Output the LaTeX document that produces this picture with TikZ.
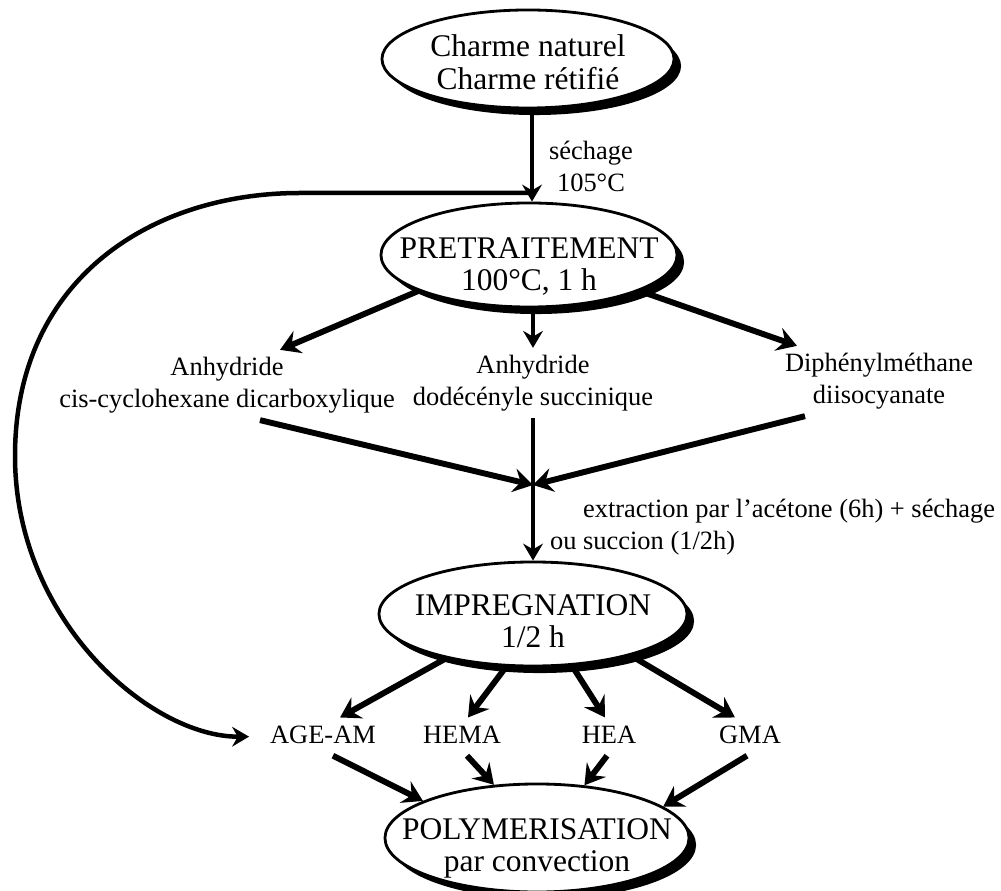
\documentclass[tikz,border=0pt]{standalone}
\usepackage{fontspec}
\setmainfont{Liberation Serif}
\usetikzlibrary{arrows.meta,shapes.geometric,shadows}
\newcommand{\twoline}[2]{\begin{tabular}{@{}c@{}}#1\\#2\end{tabular}}
\newcommand{\inbubble}[3]{\makebox[0pt]{\raisebox{#1}[0pt][0pt]{\twoline{#2}{#3}}}}

\begin{document}
\begin{tikzpicture}[x=0.025cm,y=-0.025cm,
  bubble/.style={ellipse,draw,line width=2pt,fill=white,inner sep=0pt,
    font=\fontsize{22.4}{23}\selectfont,
    drop shadow={shadow xshift=5pt,shadow yshift=-5pt,fill=black,opacity=1}},
  lbl/.style={inner sep=2pt,font=\fontsize{18.8}{22.8}\selectfont},
  arr/.style={line width=4.2pt,-{Stealth[length=14pt,width=17pt,inset=5pt]}},
  arrthin/.style={line width=2.8pt,-{Stealth[length=12pt,width=14pt,inset=4pt]}}]
  \useasboundingbox (0,0) rectangle (1001,891);

  \node[bubble,minimum width=7.3cm,minimum height=2.45cm] (top) at (528,59)
    {\inbubble{-0.37cm}{Charme naturel}{Charme rétifié}};
  \node[bubble,minimum width=7.4cm,minimum height=2.6cm] (pret) at (529,255)
    {\inbubble{-0.5cm}{PRETRAITEMENT}{100°C, 1 h}};
  \node[bubble,minimum width=7.7cm,minimum height=2.6cm] (impreg) at (533,614)
    {\inbubble{-0.45cm}{IMPREGNATION}{1/2 h}};
  \node[bubble,minimum width=7.6cm,minimum height=2.7cm] (poly) at (537,838)
    {\inbubble{-0.45cm}{POLYMERISATION}{par convection}};

  \node[lbl] (sech) at (591,169) {\twoline{séchage}{105°C}};
  \node[lbl] (cis) at (227,385) {\twoline{Anhydride}{cis-cyclohexane dicarboxylique}};
  \node[lbl] (dod) at (533,383) {\twoline{Anhydride}{dodécényle succinique}};
  \node[lbl] (diph) at (879,381) {\twoline{Diphénylméthane}{diisocyanate}};
  \node[lbl,anchor=base west] (extr) at (580,518) {extraction par l'acétone (6h) + séchage};
  \node[lbl,anchor=base west] (succ) at (547,550) {ou succion (1/2h)};

  \node[lbl,anchor=base] (agam) at (323,743) {\strut AGE-AM};
  \node[lbl,anchor=base] (hema) at (462,743) {\strut HEMA};
  \node[lbl,anchor=base] (hea) at (609,743) {\strut HEA};
  \node[lbl,anchor=base] (gma) at (750,743) {\strut GMA};

  \coordinate (join) at (532,193);
  \coordinate (bend) at (300,193);
  \coordinate (conv) at (533,485);

  \draw[arrthin] (top.south -| join) -- (join |- pret.north);
  \draw[arrthin,line width=3.2pt,shorten >=0.45cm] (join) -- (bend)
    .. controls (150,193) and (15,280) .. (15,456)
    .. controls (15,620) and (150,737) .. (agam.west);

  \draw[arr] (pret.198) -- ([xshift=1.325cm]cis.north);
  \draw[arrthin] (pret.south -| dod) -- (dod.north);
  \draw[arr] (pret.342) -- ([xshift=-2.05cm]diph.north);

  \draw[arr] ([xshift=0.825cm]cis.south) -- (conv);
  \draw[arr] ([xshift=-1.85cm]diph.south) -- (conv);
  \draw[arrthin] (dod.south) -- (impreg.north);

  \draw[arr] (impreg.207) -- ([xshift=0.425cm]agam.north);
  \draw[arr] (impreg.243) -- ([xshift=0.15cm]hema.north);
  \draw[arr] (impreg.307) -- ([xshift=-0.1cm]hea.north);
  \draw[arr] (impreg.337) -- ([xshift=-0.375cm]gma.north);

  \draw[arr] ([xshift=0.25cm]agam.south) -- (poly.162);
  \draw[arr] ([xshift=0.125cm]hema.south) -- (poly.129);
  \draw[arr] ([xshift=-0.05cm]hea.south) -- (poly.48);
  \draw[arr] ([xshift=-0.075cm]gma.south) -- (poly.14);
\end{tikzpicture}
\end{document}
